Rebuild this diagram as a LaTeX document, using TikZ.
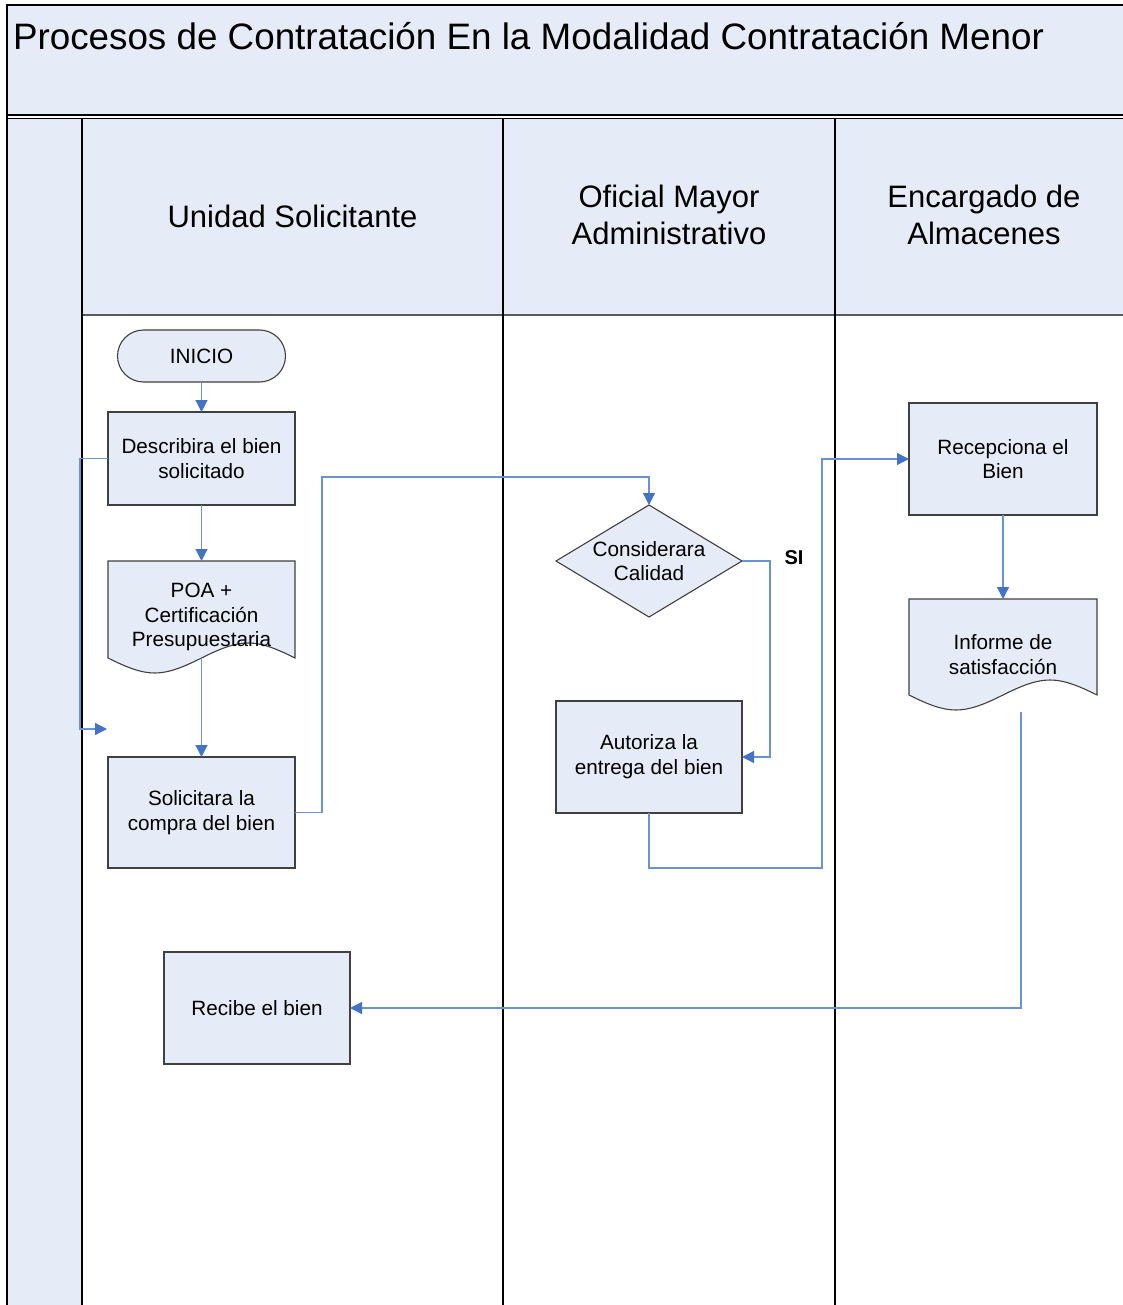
\documentclass[tikz,border=0pt]{standalone}
\usepackage{fontspec}
\setmainfont{Liberation Sans}
\usetikzlibrary{arrows.meta,calc}
\definecolor{lanefill}{HTML}{E6ECF7}
\definecolor{flowblue}{HTML}{6A93D4}
\definecolor{tipblue}{HTML}{4472C4}
\definecolor{edgegray}{HTML}{404040}
\definecolor{rulegray}{HTML}{5A5A5A}
\pgfdeclarelayer{lanes}
\pgfdeclarelayer{docs}
\pgfsetlayers{lanes,docs,main}

% outline of a flowchart "document" symbol around a named node
\newcommand\flowdocpath[1]{(#1.north west) -- (#1.north east)
  -- ($(#1.south east)+(0,-15)$)
  .. controls +(-40,-20) and +(40,-20) .. ($(#1.south)+(0,-15)$)
  .. controls +(-40,20) and +(40,20) .. ($(#1.south west)+(0,-15)$) -- cycle}

\begin{document}
\begin{tikzpicture}[x=1pt,y=-1pt,
  every node/.style={inner sep=0pt, outer sep=0pt, text=black},
  nodefont/.style={font=\fontsize{20.7}{24.8}\selectfont, align=center},
  headfont/.style={font=\fontsize{31}{37.5}\selectfont, align=center},
  procbox/.style={nodefont, draw=edgegray, fill=lanefill, line width=1.1pt,
    minimum width=187pt, minimum height=112pt},
  startbox/.style={nodefont, draw=edgegray, fill=lanefill, line width=1.1pt,
    minimum width=168pt, minimum height=52pt, rounded corners=26pt},
  docbox/.style={nodefont, minimum width=187pt, minimum height=112pt},
  decbox/.style={nodefont, minimum width=186pt, minimum height=112pt},
  shapeline/.style={draw=edgegray, fill=lanefill, line width=1.1pt},
  lane/.style={draw=black, line width=1.3pt},
  flow/.style={draw=flowblue, line width=1.2pt,
    -{Triangle[length=12pt,width=12pt,color=tipblue]}},
  silabel/.style={font=\fontsize{20}{24}\selectfont\bfseries},
]
\useasboundingbox (0,0) rectangle (1123,1305);

% ---------- pool, title band and lanes ----------
\begin{pgfonlayer}{lanes}
  \fill[lanefill] (7,5) rectangle (1140,115);
  \fill[lanefill] (7,118.5) rectangle (82,1310);
  \fill[lanefill] (82,118.5) rectangle (1140,315);
  \draw[lane, line width=1.6pt] (1140,5) -- (7,5) -- (7,1310);
  \draw[lane] (7,115) -- (1140,115);
  \draw[lane] (7,118.5) -- (1140,118.5);
  \draw[draw=rulegray, line width=1.3pt] (82,315) -- (1140,315);
  \draw[lane, line width=1.8pt] (82,118.5) -- (82,1310);
  \draw[lane] (503,118.5) -- (503,1310);
  \draw[lane] (835,118.5) -- (835,1310);
\end{pgfonlayer}

\node[anchor=base west, font=\fontsize{36.8}{44}\selectfont] (title) at (13,50)
  {Procesos de Contratación En la Modalidad Contratación Menor};

\node[headfont] (lane1) at (292.5,216) {Unidad Solicitante};
\node[headfont] (lane2) at (669,215) {Oficial Mayor\\Administrativo};
\node[headfont] (lane3) at (984,215) {Encargado de\\Almacenes};

% ---------- flow nodes ----------
\node[startbox] (inicio) at (201.5,356) {INICIO};
\node[procbox, minimum height=93pt] (desc) at (201.5,458.5) {Describira el bien\\solicitado};
\node[docbox] (poa) at (201.5,617) {POA +\\Certificación\\Presupuestaria};
\node[procbox, minimum height=111pt] (solic) at (201.5,812.5) {Solicitara la\\compra del bien};
\node[procbox, minimum width=186pt] (recibe) at (257,1008) {Recibe el bien};

\node[decbox] (cons) at (649,561) {Considerara\\Calidad};
\node[procbox, minimum width=186pt] (autor) at (649,757) {Autoriza la\\entrega del bien};

\node[procbox, minimum width=188pt] (recep) at (1003,459) {Recepciona el\\Bien};
\node[docbox, minimum width=188pt, minimum height=111pt] (inf) at (1003,654.5) {Informe de\\satisfacción};

\begin{pgfonlayer}{docs}
  \path[shapeline] \flowdocpath{poa};
  \path[shapeline] \flowdocpath{inf};
  \path[shapeline] (cons.north) -- (cons.east) -- (cons.south) -- (cons.west) -- cycle;
\end{pgfonlayer}

% ---------- connectors ----------
\coordinate (loopend) at (107,729);
\coordinate (infout) at (1021,712);

\draw[flow] (inicio.south) -- (desc.north);
\draw[flow] (desc.south) -- (poa.north);
\draw[flow] ($(poa.south)+(0,-15)$) -- (solic.north);
\draw[flow] (desc.west) -- ++(-28,0) |- (loopend);
\draw[flow] (solic.east) -- ++(27,0) |- ($(cons.north)+(0,-28)$) -- (cons.north);
\draw[flow] (cons.east) -- ++(28,0) |- (autor.east);
\node[silabel] (si) at (794,558) {SI};
\draw[flow] (autor.south) -- ++(0,55) -| ($(recep.west)+(-87,0)$) -- (recep.west);
\draw[flow] (recep.south) -- (inf.north);
\draw[flow] (infout) |- (recibe.east);
\end{tikzpicture}
\end{document}
